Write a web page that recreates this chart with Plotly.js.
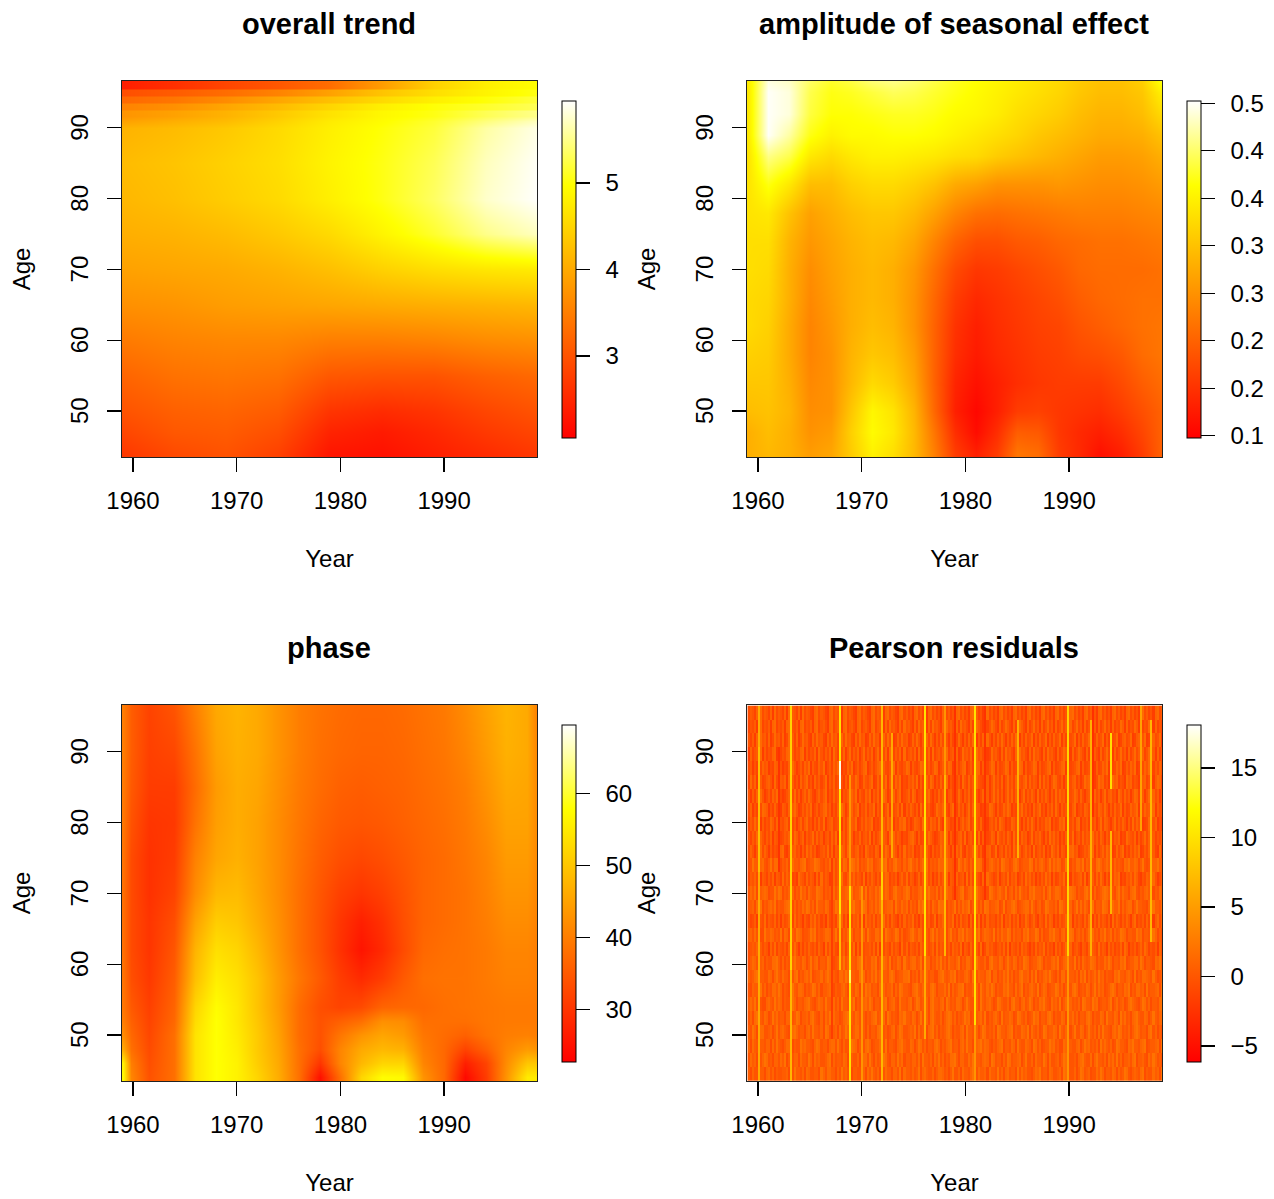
<!DOCTYPE html>
<html>
<head>
<meta charset="utf-8">
<script src="https://cdn.plot.ly/plotly-3.0.1.min.js"></script>
<style>html,body{margin:0;padding:0;background:#fff}#plot{width:1274px;height:1199px}</style>
</head>
<body>
<div id="plot"></div>
<script>
const panelTitles = ["overall trend", "amplitude of seasonal effect", "phase", "Pearson residuals"];
const yearTicks = [1960, 1970, 1980, 1990];
const ageTicks = [50, 60, 70, 80, 90];

const trendYears = [1959,1964,1969,1974,1979,1984,1989,1994,1999];
const trendAges = [44,47,50,55,60,65,70,75,80,85,90,91,91.6,92.4,92.6,93.4,93.6,94.4,94.6,95.4,95.6,96.5];
const trendValues = [
[2.7,2.9,3.0,2.8,2.3,2.25,2.4,2.55,2.7],
[2.85,3.05,3.1,2.95,2.45,2.35,2.5,2.7,2.85],
[3.0,3.15,3.2,3.1,2.65,2.55,2.65,2.85,3.0],
[3.2,3.35,3.4,3.35,3.05,3.0,3.0,3.15,3.25],
[3.45,3.55,3.6,3.6,3.5,3.5,3.55,3.65,3.7],
[3.7,3.75,3.85,3.9,3.95,4.0,4.05,4.1,4.15],
[3.9,3.95,4.0,4.1,4.25,4.45,4.6,4.7,4.75],
[4.05,4.1,4.2,4.35,4.55,4.85,5.15,5.5,5.7],
[4.15,4.25,4.4,4.55,4.8,5.05,5.35,5.75,5.94],
[4.2,4.3,4.45,4.6,4.85,5.05,5.3,5.7,5.92],
[4.1,4.2,4.35,4.55,4.8,5.0,5.2,5.6,5.85],
[3.9,4.05,4.2,4.45,4.75,4.95,5.15,5.45,5.7],
[3.75,3.9,4.1,4.35,4.65,4.9,5.05,5.3,5.5],
[3.75,3.9,4.1,4.35,4.65,4.9,5.05,5.3,5.5],
[3.55,3.7,3.95,4.2,4.5,4.8,5.0,5.15,5.3],
[3.55,3.7,3.95,4.2,4.5,4.8,5.0,5.15,5.3],
[3.25,3.4,3.65,3.95,4.25,4.55,4.8,5.0,5.2],
[3.25,3.4,3.65,3.95,4.25,4.55,4.8,5.0,5.2],
[2.95,3.1,3.3,3.55,3.9,4.3,4.6,4.85,5.05],
[2.95,3.1,3.3,3.55,3.9,4.3,4.6,4.85,5.05],
[2.4,2.6,2.85,3.05,3.3,3.85,4.45,4.8,4.97],
[2.4,2.6,2.85,3.05,3.3,3.85,4.45,4.8,4.97]
];

const amplitudeYears = [1959,1961,1963,1965,1967,1969,1971,1973,1975,1977,1979,1981,1983,1985,1987,1989,1991,1993,1995,1997,1999];
const amplitudeAges = [44,47,50,54,58,62,66,70,74,78,82,86,89,92,95,97];
const amplitudeValues = [
[.33,.34,.33,.31,.32,.36,.40,.38,.34,.28,.21,.18,.21,.27,.26,.21,.19,.165,.18,.21,.25],
[.33,.345,.33,.30,.31,.365,.41,.39,.34,.27,.195,.16,.195,.245,.24,.205,.19,.18,.195,.22,.25],
[.345,.35,.335,.295,.30,.355,.405,.385,.335,.255,.18,.155,.18,.21,.215,.205,.20,.195,.21,.23,.25],
[.355,.355,.33,.29,.30,.34,.375,.36,.32,.25,.185,.165,.18,.195,.205,.21,.21,.21,.225,.245,.26],
[.365,.36,.325,.285,.30,.335,.355,.345,.31,.25,.195,.175,.19,.20,.21,.215,.225,.23,.24,.26,.27],
[.375,.365,.325,.285,.305,.33,.345,.335,.30,.25,.20,.18,.195,.205,.215,.22,.235,.245,.255,.265,.27],
[.375,.37,.33,.29,.31,.33,.34,.33,.30,.255,.21,.19,.20,.21,.22,.23,.245,.255,.26,.265,.265],
[.38,.375,.33,.295,.315,.33,.34,.33,.305,.265,.225,.205,.21,.22,.23,.24,.255,.26,.26,.26,.265],
[.38,.38,.335,.305,.32,.335,.345,.34,.32,.285,.25,.23,.23,.24,.245,.255,.26,.265,.265,.27,.275],
[.385,.39,.35,.315,.33,.345,.355,.355,.34,.315,.285,.265,.26,.265,.27,.275,.28,.28,.28,.285,.29],
[.385,.42,.39,.345,.345,.365,.375,.375,.365,.35,.325,.315,.30,.30,.30,.305,.30,.295,.295,.30,.31],
[.385,.46,.44,.39,.375,.39,.40,.40,.395,.39,.38,.375,.36,.35,.34,.33,.32,.31,.31,.315,.33],
[.39,.50,.47,.42,.40,.41,.41,.415,.415,.41,.40,.39,.38,.37,.355,.345,.335,.325,.325,.33,.35],
[.39,.50,.49,.435,.415,.415,.42,.425,.425,.42,.41,.405,.395,.38,.37,.36,.345,.335,.335,.345,.375],
[.39,.50,.49,.44,.42,.425,.435,.445,.44,.43,.42,.41,.40,.39,.38,.37,.355,.345,.345,.355,.40],
[.395,.49,.48,.45,.43,.44,.46,.465,.455,.44,.425,.415,.405,.395,.385,.375,.36,.35,.35,.365,.43]
];

const phaseYears = [1959,1959.8,1961.5,1964,1966,1968,1970,1972,1974,1976,1978,1980,1982,1984,1986,1988,1990,1992,1994,1996,1998,1999];
const phaseAges = [44,46,48,50,52,54,58,62,66,70,75,80,85,90,97];
const phaseValues = [
[57,41,34,38,54,58,56,52,46.5,38,25,38,52,57.5,57,43,37,24,31,43,55,55],
[56,40,33.5,38,54,58,56,51,46,38,30,41,48,52,52,41,37,27,32,42,50,50],
[46,38,33,38,54,58,55.5,50.5,45.5,38,33.5,41,46,48,47,40,37,32,36,41,44,43],
[42,37,32.5,38,54,58,55,50.5,45,37.5,34,39,43,45.5,44,39,37.5,36,38.5,40,40.5,40],
[40,36,32,37,53,58,54.5,50,44.5,37.5,34,36,38,42.5,42,38,38,38,39,39.5,39.5,39.5],
[39,35,31.5,36.5,52,57.5,54.5,49.5,44,37.5,33.5,32,33,36.5,37,37,38,38.5,39,39.5,39.5,39.5],
[38.5,33.5,30.5,35.5,49,55.5,53.5,49.5,44,39,35,31,28.5,31,35,38,38.5,38.5,39.5,40.5,40.5,40],
[38,33,30,34.5,47.5,53.5,52,48,43,38,34,29.5,25.5,28.5,33,37,38,38.5,39.5,41,41,40],
[38,33,30,33.5,45,51,50,46.5,42.5,38,34,30,27,29.5,33.5,36.5,37.5,38.5,40,42,42,40.5],
[38,33,29.5,32,42,48,48.5,45.5,42,38,34.5,31.5,30,31.5,34,36.5,37.5,38.5,40.5,43,43,41],
[38.5,33,29.5,31,40.5,45.5,47,45,42,38.5,35.5,33.5,32.5,33.5,35,36.5,37.5,39,41,44,44,41.5],
[39,34,30,30.5,38.5,44.5,46.5,45,42,39,36.5,35,34.5,35,36,37,38,39.5,42,45,45,41.5],
[39.5,35,31,31,37.5,44,46.5,45.5,42.5,39.5,37.5,36,35.5,36,36.5,37.5,38.5,40,43,46,45.5,41.5],
[40,35.5,31.5,32.5,38.5,45,47,46,43,40,38,37,36.5,36.5,37,38,39,41,44,47,46,41],
[40,35.5,32,34.5,40.5,46,47.5,46,43,40,38.5,37.5,37,37,37.5,38.5,39.5,42,45,47.5,46,40]
];

// residual cells as estimated level digits, lowest age first; residualLevels maps digit to value
const residualLevels = [-2.9,-2.35,-1.8,-1.25,-0.7,-0.15,0.4,0.95,1.5,2.05];
const residualRows = [
"6475586647857465566748596657487556649758866475967584665577486965745586647759486657569478655746887564695574866579458667486659574785664958675546879566487556749865574698567455869746658747569854676589465586749",
"5867465798564775869465577486659748675568947566587496557468859647566985477596846657758496657486957465889647755869466578749856647598566784695574866597485567469875564789655847966574868595746675894667548697565",
"7486596657748596546887465597866547985664788596475569874665897456687594665478965587469857466589746578956647859664578968754657894665874965587649857456697856448796557846978565749686574598665487966578945667849",
"6597468855674695786546897566478596657498566748569745688596474665897564578469855676948566478957465689746557849665874698565749866578946558769486574598566874965784695587469657485966547869856574689756648957465",
"5748966587459685664778569846675896547486958664578946587596465789566849756548796658746956748965574689857465697845667859465786495668745986574569784665897465587496857466589746558749665874968564789655874696578",
"6869575447865968746558974665789654687596648574966587946557869746655894678549665784698565748966578497565887469655874965786459865574896647856974658796548675946887565749866597845665794685674589765469857466589",
"5476689574658869746547965887465698574667894655786496587465978566489756684759866547896574658974666859475688946557874965869746558796648579465786594687456698574665897456587469586745689746658794658867495667849",
"7568946655874796586647589465786945668579746548869746655978465869574665897456688946574869756644789656879465578649857665894774658695746589667485946578696547488596657486947568596746554879665786494658876596457",
"4687596746558896474658796658746957846659874568695746658974655879466875946587496578856946774658695748665794658864796557489665874696587465987456689746557869457866594748656987465586974665879456688597466548796",
"4565736465274836546374585263647546375284756436573645827364556473825465374652847365463752645738465246375648265374563824756435647382654637564253746583645274635847356426537465384652746354738625463574863546275",
"6758574496687565948746659874556979465688746957465897466587496558867497656984745689658746647958566847956487958664579468765947586698475664879566984745587966478569846757469885647695684756987466559784665897465",
"5346275483654736264575384652643758463527465384736254657342856473652846375426374658352647563482657346582637456273548263745536482657364725486357426538476253645738264653748526374653628475364752683546374526847",
"5674889465786946557896474658698574966587456984767548966579846758694567784965868475649796574865988746569475867946685749856678459466897456788596467459866574986577469585864794665987458669475788469665547896658",
"5869466787455969846578746596748655987465698574667849566875947658694687458966579846557864796658475986647568945786696547498657865946748596564879666584795688746569874655896747456898665479586647895465786946587",
"3657482653647265384756342865374652738465237465843625746538264753642687354625748365247365846253746482653745628374564273865347256483657246385746253648572634658372645673825463748526354768243657486325476385246",
"4596677854695887465749866578945669875465897466587459868465697845677894658966475896574688946565877496658497586475699846578657498664589745666984757864695868745974658869476654897568694756548796687469545877966",
"4752638475263546783254674526385746235648372654763825467352864537624586347526384657243658742635486375264758326457384625673482563746285463574628356472538647265347856234657482635748652374682536475823647563284",
"5364827536472658346572486357264583746256374825463786254735648263574652837465243678526347586423576482635467382564738265347628546375284637562483657426385746253674825637465284637526483657243865472635847263546",
"3648572635486372546738462573684526374825673458263746582364756824357648632547683524765382647563842675348625746835264738256473865243764852637485263547682534768254637825463746258376425836475263847562348657243",
"4725364876253748265374685236475824635784625374862537468254736582647358264573826475362847563248657342685374625837465236487526347586243758463527468352647385264573682453764825376485263745826347568234756382645",
"5263748524637586423576483625748632574682537468254637582643758264735862457368245738624537684253746825637485264736852473625847362584736425836475283647526384756324586374256837462583674528637462587346258374625",
"3847256346752843657284635274683527463582647358426375486237546823746582643758243657482635748625374682537462853746285437625846372584637254683746528374625874362584673524867352486735248673542867354286735426873",
"4625384756243768524376852463758264375824637586243758246357824635782643578264358726435872463587246358724635782463587264358726345872634587263458726345782634578263457826345782634758263475823647582364758236475",
"2735648263547826354782635478263547285364728536472583647258364725836472853647283564728356472835647283564723856472385647238564273856427385642738564273856427358642735864273586427358462735846273584627358462735",
"5362748563724856372485637248563274856327485632748563274856237485623748562374856237485263748526374852637485263748526374852637485263748526374582637458263745826374582637458263745826374582367458236745823674582",
"3546278354627835462783546278354627835642783564278356427835642783564273856427385642738564273856427385642738564273586427358642735864273586427358462735846273584627358462735846273584627354862735486273548627354",
"4653728465372846537284653728465327846532784653278465327846532784653278465327846352784635278463527846352784635278463527846352784635278463527846352784635278463527846352784635278463527846352784635278463527846"
];
// [year, lowest age, highest age, value] for each stripe
const residualStripes = [
[1960,44,96.5,6],[1960,73,91,7.5],
[1963.1,44,60,7],[1963.1,60,96.5,9],
[1967.9,68,96.5,10],[1967.9,60,68,7],[1967.9,85.5,88,17.5],
[1968.9,70,87,4.5],[1968.9,44,70,10],[1968.9,57,60,14],
[1970,44,70,4.5],
[1972,44,96,7],[1972,69,72,9],
[1973,74,92,6],
[1976.1,62,96.5,10],[1976.1,50,62,6],
[1978,62,86.5,7],[1978,86.5,96,4.5],
[1981,52,96.5,10],[1981,44,52,4.5],
[1985,75,95,6.5],
[1990,61,96.5,9],[1990,44,61,4.5],
[1992,61,95,6.5],
[1994,85,93,10],[1994,67,79,7],
[1997,78,96,5.5],
[1998,63,95,7],
[1967,50,75,-1.8],[1979,70,96,-2.8],[1982,70,96,-2.6],[1992.3,80,96,-2.8],[1962,72,90,-2.5]
];

const colorbarTicks = [
  {vals:[3,4,5], text:["3","4","5"], range:[2.05,5.95]},
  {vals:[.15,.2,.25,.3,.35,.4,.45,.5], text:["0.1","0.2","0.2","0.3","0.3","0.4","0.4","0.5"], range:[.1476,.5024]},
  {vals:[30,40,50,60], text:["30","40","50","60"], range:[22.75,69.5]},
  {vals:[-5,0,5,10,15], text:["\u22125","0","5","10","15"], range:[-6.15,18.1]}
];

const W = 1274, H = 1199;
const FONT = "Liberation Sans, Arial, Helvetica, sans-serif";
const heat = [[0,"#FF0000"],[.75,"#FFFF00"],[1,"#FFFFFF"]];
const columns = [122, 747], rows = [81, 705];

// build residual matrix
const N = Math.min(...residualRows.map(r => r.length));
const M = residualRows.length;
const resYears = Array.from({length:N}, (_,i) => 1959 + (i+.5)*40/N);
const resAges = Array.from({length:M}, (_,j) => 43.5 + (j+.5)*53/M);
const resZ = residualRows.map(r => Array.from(r.slice(0,N), c => residualLevels[+c]));
residualStripes.forEach(([yr,lo,hi,v]) => {
  const c = Math.floor((yr-1959)/40*N);
  resAges.forEach((a,j) => { if (a>=lo && a<=hi) resZ[j][c] = v; });
});

const series = [
  {x:trendYears, y:trendAges, z:trendValues, smooth:"best"},
  {x:amplitudeYears, y:amplitudeAges, z:amplitudeValues, smooth:"best"},
  {x:phaseYears, y:phaseAges, z:phaseValues, smooth:"best"},
  {x:resYears, y:resAges, z:resZ, smooth:false}
];

const data = [], annotations = [];
const layout = {
  width:W, height:H, margin:{l:0,r:0,t:0,b:0,pad:0}, showlegend:false,
  paper_bgcolor:"#fff", plot_bgcolor:"#fff", font:{family:FONT,size:24,color:"#000"}
};
series.forEach((s,i) => {
  const col = columns[i%2], row = rows[i>>1];
  const sfx = i ? String(i+1) : "";
  const cb = colorbarTicks[i];
  data.push({
    type:"heatmap", x:s.x, y:s.y, z:s.z, zsmooth:s.smooth, xaxis:"x"+sfx, yaxis:"y"+sfx,
    colorscale:heat, zmin:cb.range[0], zmax:cb.range[1], hoverinfo:"skip",
    colorbar:{
      x:(col+440)/W, xanchor:"left", xref:"paper", y:1-(row+20)/H, yanchor:"top", yref:"paper",
      len:337, lenmode:"pixels", thickness:14, thicknessmode:"pixels", xpad:0, ypad:0,
      outlinewidth:1, outlinecolor:"#000", borderwidth:0,
      tickmode:"array", tickvals:cb.vals, ticktext:cb.text.map(t => "\u00a0\u2006"+t),
      ticks:"outside", ticklen:14, tickwidth:1.2, tickcolor:"#000",
      tickfont:{family:FONT,size:24,color:"#000"}
    }
  });
  layout["xaxis"+sfx] = {
    domain:[col/W,(col+415)/W], anchor:"y"+sfx, range:[1958.94,1998.96], fixedrange:true,
    tickmode:"array", tickvals:yearTicks, ticks:"outside", ticklen:14, tickwidth:1.2, tickcolor:"#000",
    ticklabelstandoff:8, showgrid:false, zeroline:false, showline:true, mirror:true, linecolor:"#222", linewidth:1,
    tickfont:{family:FONT,size:24,color:"#000"},
    title:{text:"Year", standoff:37, font:{family:FONT,size:24,color:"#000"}}
  };
  layout["yaxis"+sfx] = {
    domain:[1-(row+376)/H,1-row/H], anchor:"x"+sfx, range:[43.5,96.6], fixedrange:true,
    tickmode:"array", tickvals:ageTicks, ticktext:ageTicks.map(t => t+"\u00a0"), ticks:"outside", ticklen:14, tickwidth:1.2, tickcolor:"#000", tickangle:-90,
    ticklabelstandoff:9, showgrid:false, zeroline:false, showline:true, mirror:true, linecolor:"#222", linewidth:1,
    tickfont:{family:FONT,size:24,color:"#000"},
    title:{text:"Age", standoff:29, font:{family:FONT,size:24,color:"#000"}}
  };
  annotations.push({
    text:"<b>"+panelTitles[i]+"</b>", xref:"paper", yref:"paper", x:(col+207)/W, y:1-(row-57)/H,
    xanchor:"center", yanchor:"middle", showarrow:false, font:{family:FONT,size:29,color:"#000"}
  });
});
layout.annotations = annotations;
Plotly.newPlot("plot", data, layout, {staticPlot:true, displayModeBar:false});
</script>
</body>
</html>
